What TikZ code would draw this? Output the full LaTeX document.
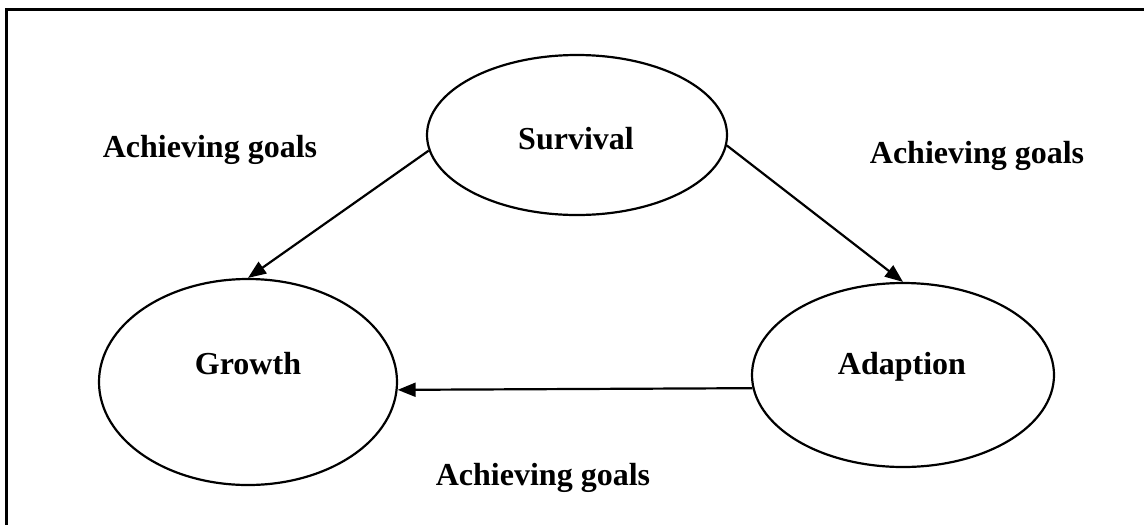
\documentclass[tikz,border=0pt]{standalone}
\usepackage{fontspec}
\setmainfont{Liberation Serif}
\usepackage{tikz}
\usetikzlibrary{arrows.meta, shapes.geometric}

\tikzset{
  blob/.style={draw, ellipse, line width=1.1pt, inner sep=0pt},
  goal/.style={font=\bfseries\fontsize{16}{19}\selectfont},
  link/.style={line width=1.1pt, -{Triangle[length=9pt, width=7pt]}}
}

\begin{document}
\begin{tikzpicture}[x=0.5pt, y=-0.5pt]
  \useasboundingbox (0,0) rectangle (1144,525);

  % Frame (top and left only)
  \draw[line width=1.5pt] (1144,9.5) -- (6.5,9.5) -- (6.5,525);

  % Ellipses
  \node[blob, minimum width=150pt, minimum height=80pt] (surv) at (577,135) {};
  \node[blob, minimum width=149pt, minimum height=103pt] (grow) at (248,382) {};
  \node[blob, minimum width=151pt, minimum height=92pt] (adap) at (903,375) {};
  \node[goal] (survtxt) at (576,139) {Survival};
  \node[goal] (growtxt) at (248,364) {Growth};
  \node[goal] (adaptxt) at (902,367) {Adaption};

  % Arrows
  \draw[link] (surv.186) -- (grow.north);
  \draw[link] (surv.-4) -- (adap.north);
  \draw[link] (adap.185) -- (grow.-3);

  % Labels
  \node[goal] (lblleft) at (210,150) {Achieving goals};
  \node[goal] (lblright) at (977,156) {Achieving goals};
  \node[goal] (lblbottom) at (543,478) {Achieving goals};
\end{tikzpicture}
\end{document}
